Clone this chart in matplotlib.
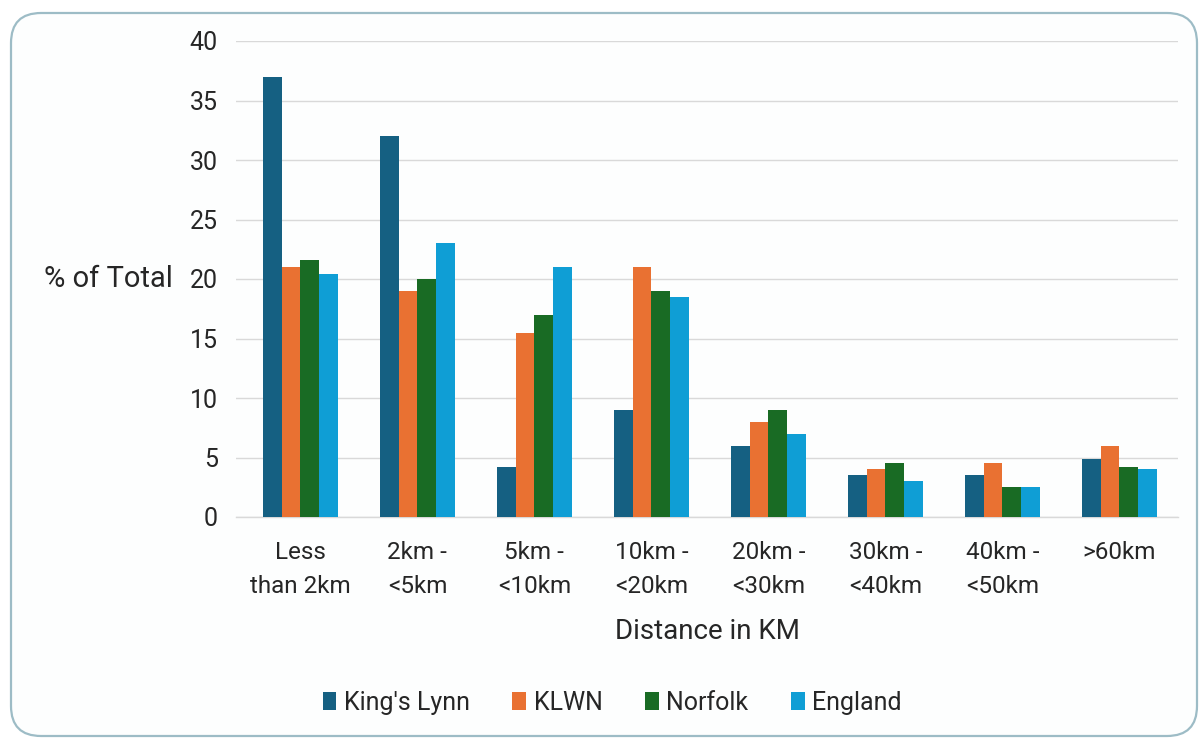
import matplotlib
matplotlib.use("Agg")
import matplotlib.pyplot as plt
from matplotlib.patches import FancyBboxPatch, Patch
import numpy as np

categories = ["Less\nthan 2km", "2km -\n<5km", "5km -\n<10km", "10km -\n<20km",
              "20km -\n<30km", "30km -\n<40km", "40km -\n<50km", ">60km"]
kings_lynn = [37.0, 32.0, 4.2, 9.0, 6.0, 3.5, 3.5, 4.9]
klwn = [21.0, 19.0, 15.5, 21.0, 8.0, 4.0, 4.5, 6.0]
norfolk = [21.6, 20.0, 17.0, 19.0, 9.0, 4.5, 2.5, 4.2]
england = [20.4, 23.0, 21.0, 18.5, 7.0, 3.0, 2.5, 4.0]
series_names = ["King's Lynn", "KLWN", "Norfolk", "England"]
y_ticks = [0, 5, 10, 15, 20, 25, 30, 35, 40]

colors = ["#156082", "#E97132", "#196B24", "#0F9ED5"]
text_color = "#262626"
plt.rcParams["font.family"] = ["Roboto", "DejaVu Sans"]

fig = plt.figure(figsize=(12.03, 7.38), dpi=100)
fig.patch.set_facecolor("white")

# rounded chart frame behind everything
frame = FancyBboxPatch((11 / 1203, 2 / 738), 1186 / 1203, 723 / 738,
                       boxstyle="round,pad=0,rounding_size=0.025",
                       transform=fig.transFigure, facecolor="#fdfefe",
                       edgecolor="#9dbcc6", linewidth=1.6, zorder=-10,
                       mutation_aspect=1203 / 738)
fig.patches.append(frame)

ax = fig.add_axes([236 / 1203, 1 - 517 / 738, (1178 - 236) / 1203, (517 - 41) / 738])
ax.set_facecolor("none")
ax.set_zorder(1)

x = np.arange(len(categories))
w = 0.16
all_series = [kings_lynn, klwn, norfolk, england]
for i, (vals, name, c) in enumerate(zip(all_series, series_names, colors)):
    ax.bar(x + (i - 1.5) * w, vals, width=w, color=c, label=name, zorder=3)

ax.set_xlim(-0.55, 7.5)
ax.set_ylim(0, 40)
ax.set_yticks(y_ticks)
ax.yaxis.grid(True, color="#d9d9d9", linewidth=1.0, zorder=0)
for s in ["top", "right", "left"]:
    ax.spines[s].set_visible(False)
ax.spines["bottom"].set_color("#d9d9d9")
ax.spines["bottom"].set_linewidth(1.0)
ax.tick_params(axis="both", length=0, colors=text_color)
ax.tick_params(axis="y", pad=13, labelsize=18)
ax.tick_params(axis="x", pad=17, labelsize=17.5)
ax.set_xticks(x)
ax.set_xticklabels(categories, linespacing=1.65)

ax.set_xlabel("Distance in KM", fontsize=20, color=text_color, labelpad=14)
ax.set_ylabel("% of Total", fontsize=21, color=text_color, rotation=0,
              ha="right", va="center")
ax.yaxis.set_label_coords(-0.067, 0.5)

handles = [Patch(facecolor=c, edgecolor="none") for c in colors]
leg = fig.legend(handles, series_names, loc="center",
                 bbox_to_anchor=(612 / 1203, 1 - 703 / 738),
                 ncol=4, frameon=False, fontsize=18, handlelength=0.55, handleheight=0.75,
                 handletextpad=0.3, columnspacing=1.7, labelcolor=text_color)
leg.set_zorder(2)

fig.savefig("out.png", dpi=100, facecolor="white")
